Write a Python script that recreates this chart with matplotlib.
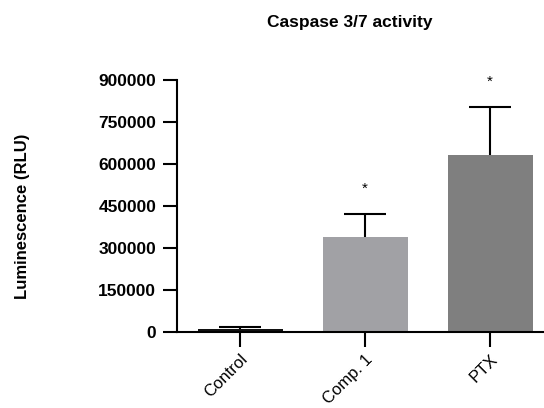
import matplotlib
matplotlib.use("Agg")
import matplotlib.pyplot as plt

plt.rcParams['font.family'] = ['Liberation Sans', 'DejaVu Sans']

groups = ["Control", "Comp. 1", "PTX"]
means = [11000, 339000, 632000]
sem = [8000, 83000, 172000]
bar_colors = ["#111111", "#a1a1a5", "#7f7f7f"]
signif = ["", "*", "*"]
y_ticks = [0, 150000, 300000, 450000, 600000, 750000, 900000]

fig = plt.figure(figsize=(5.44, 4.08), dpi=100)
ax = fig.add_axes([177 / 544, 76 / 408, 1 - 177 / 544, 252 / 408])

x = range(len(groups))
ax.bar(x, means, width=0.68, color=bar_colors, zorder=2)
eb = ax.errorbar(x, means, yerr=[[0] * 3, sem], fmt="none", ecolor="black",
                 elinewidth=1.5, capsize=15, capthick=1.5, zorder=3)
# only the upper caps, like the original figure
eb[1][0].set_visible(False)

for i, s in enumerate(signif):
    if s:
        ax.text(i, means[i] + sem[i] + 88000, s, ha="center", va="center", fontsize=11)

ax.set_xlim(-0.504, 2.432)
ax.set_ylim(0, 900000)
ax.set_yticks(y_ticks)
ax.set_yticklabels([str(v) for v in y_ticks], fontsize=12.5, fontweight="bold")
ax.set_xticks(list(x))
ax.set_xticklabels(groups, rotation=45, ha="right", rotation_mode="anchor", fontsize=12)

for side in ["top", "right"]:
    ax.spines[side].set_visible(False)
for side in ["left", "bottom"]:
    ax.spines[side].set_linewidth(1.5)
ax.tick_params(axis="y", length=10, width=1.5, pad=5)
ax.tick_params(axis="x", length=11, width=1.5, pad=3)

fig.text(350 / 544, 1 - 22 / 408, "Caspase 3/7 activity", ha="center", va="center",
         fontsize=12.5, fontweight="bold")
fig.text(23 / 544, 1 - 216 / 408, "Luminescence (RLU)", rotation=90, ha="center",
         va="center", fontsize=12, fontweight="bold")

fig.savefig("out.png", dpi=100)
